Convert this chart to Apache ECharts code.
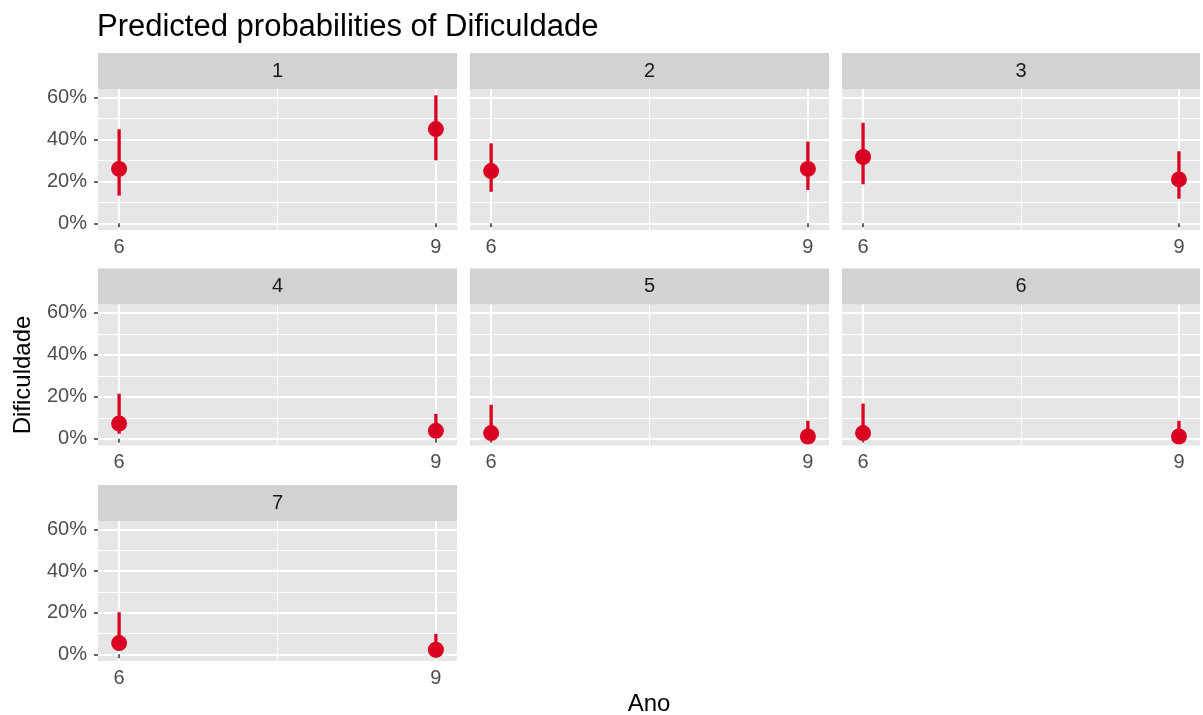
<!DOCTYPE html>
<html>
<head>
<meta charset="utf-8">
<script src="https://cdn.jsdelivr.net/npm/echarts@6/dist/echarts.min.js"></script>
<style>
html,body{margin:0;padding:0;background:#fff;}
#chart{width:1203px;height:715px;}
</style>
</head>
<body>
<div id="chart"></div>
<script>
// ---- data ----
const panels = ['1', '2', '3', '4', '5', '6', '7'];
const years = [6, 9];
const predicted = [[25.9, 44.9], [24.9, 25.9], [31.6, 20.9], [7.3, 3.8], [2.7, 1.1], [2.7, 1.1], [5.4, 2.2]];
const lower = [[13.2, 30.0], [15.0, 15.9], [18.6, 11.7], [2.4, 1.0], [0.5, 0.2], [0.5, 0.2], [1.9, 0.5]];
const upper = [[44.8, 61.0], [38.1, 38.9], [47.9, 34.3], [21.5, 11.9], [16.2, 8.6], [16.8, 8.6], [20.2, 9.8]];
const yTicks = [0, 20, 40, 60];
const yMinor = [10, 30, 50];
const xMinor = [7.5];
const titleText = 'Predicted probabilities of Dificuldade';
const xTitle = 'Ano';
const yTitle = 'Dificuldade';

// ---- layout ----
const RED = '#DA0021';
const FONT = '"Liberation Sans", Arial, Helvetica, sans-serif';
const colLeft = [98, 470, 842];
const colW = [359, 359, 358];
const rowTop = [89, 304.5, 521];
const rowH = [141, 141, 140];
const stripH = 36;
const yMin = -3.2, yMax = 64;
const xMin = 5.8, xMax = 9.2;

const grids = [], xAxes = [], yAxes = [], series = [], graphics = [];

panels.forEach((p, i) => {
  const r = Math.floor(i / 3), c = i % 3;
  grids.push({
    left: colLeft[c], top: rowTop[r], width: colW[c], height: rowH[r],
    show: true, backgroundColor: '#E6E6E6', borderWidth: 0, containLabel: false
  });
  const gi = grids.length - 1;
  // main axes
  xAxes.push({
    type: 'value', gridIndex: gi, min: xMin, max: xMax,
    axisLine: { show: false },
    axisTick: { show: true, length: 4, customValues: years, lineStyle: { color: '#333', width: 1.5 } },
    axisLabel: { show: true, customValues: years, margin: 7, color: '#4D4D4D', fontSize: 20, fontFamily: FONT },
    splitLine: { show: true, lineStyle: { color: '#FFFFFF', width: 2 } }
  });
  yAxes.push({
    type: 'value', gridIndex: gi, min: yMin, max: yMax,
    axisLine: { show: false },
    axisTick: { show: c === 0, length: 4, customValues: yTicks, lineStyle: { color: '#333', width: 1.5 } },
    axisLabel: { show: c === 0, customValues: yTicks, margin: 11, color: '#4D4D4D', fontSize: 20, fontFamily: FONT,
                 formatter: v => v + '%' },
    splitLine: { show: true, lineStyle: { color: '#FFFFFF', width: 2 } }
  });
  const xMain = xAxes.length - 1, yMain = yAxes.length - 1;
  // minor axes (grid lines only)
  xAxes.push({
    type: 'value', gridIndex: gi, min: xMin, max: xMax,
    axisLine: { show: false }, axisTick: { show: false, customValues: xMinor },
    axisLabel: { show: false, customValues: xMinor },
    splitLine: { show: true, lineStyle: { color: '#FFFFFF', width: 1 } }
  });
  yAxes.push({
    type: 'value', gridIndex: gi, min: yMin, max: yMax,
    axisLine: { show: false }, axisTick: { show: false, customValues: yMinor },
    axisLabel: { show: false, customValues: yMinor },
    splitLine: { show: true, lineStyle: { color: '#FFFFFF', width: 1 } }
  });
  const xMi = xAxes.length - 1, yMi = yAxes.length - 1;
  // dummy series so minor axes render
  series.push({ type: 'scatter', xAxisIndex: xMi, yAxisIndex: yMi, data: [], silent: true });

  // error bars
  series.push({
    type: 'custom', xAxisIndex: xMain, yAxisIndex: yMain, z: 3,
    data: years.map((yr, k) => [yr, lower[i][k], upper[i][k]]),
    renderItem: (params, api) => {
      const x = api.value(0);
      const a = api.coord([x, api.value(1)]);
      const b = api.coord([x, api.value(2)]);
      return { type: 'line', shape: { x1: a[0], y1: a[1], x2: b[0], y2: b[1] },
               style: { stroke: RED, lineWidth: 3.3 } };
    }
  });
  // points
  series.push({
    type: 'scatter', xAxisIndex: xMain, yAxisIndex: yMain, z: 4,
    symbol: 'circle', symbolSize: 16,
    itemStyle: { color: RED, opacity: 1 },
    data: years.map((yr, k) => [yr, predicted[i][k]])
  });

  // strip
  graphics.push({
    type: 'group', left: colLeft[c], top: rowTop[r] - stripH,
    children: [
      { type: 'rect', shape: { x: 0, y: 0, width: colW[c], height: stripH }, style: { fill: '#D2D2D2' } },
      { type: 'text', x: colW[c] / 2, y: stripH / 2,
        style: { text: p, fill: '#1A1A1A', font: '20px ' + FONT, textAlign: 'center', textVerticalAlign: 'middle' } }
    ]
  });
});

graphics.push({ type: 'text', left: 97, top: 12,
  style: { text: titleText, fill: '#000', font: '31px ' + FONT } });
graphics.push({ type: 'text', x: 649, y: 704,
  style: { text: xTitle, fill: '#000', font: '24px ' + FONT, textAlign: 'center', textVerticalAlign: 'middle' } });
graphics.push({ type: 'text', x: 23, y: 375, rotation: Math.PI / 2,
  style: { text: yTitle, fill: '#000', font: '24px ' + FONT, textAlign: 'center', textVerticalAlign: 'middle' } });

const chart = echarts.init(document.getElementById('chart'), null, { renderer: 'canvas' });
chart.setOption({
  backgroundColor: '#FFFFFF',
  animation: false,
  grid: grids, xAxis: xAxes, yAxis: yAxes, series: series,
  graphic: graphics
});
</script>
</body>
</html>
